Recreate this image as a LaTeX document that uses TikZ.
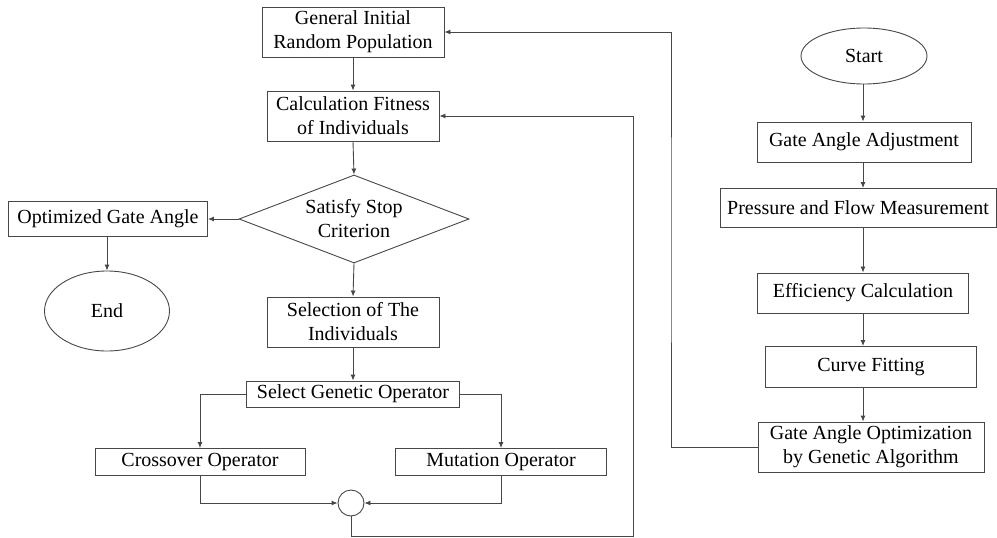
\documentclass[tikz,border=0pt]{standalone}
\usepackage{fontspec}
\setmainfont{Liberation Serif}
\usetikzlibrary{arrows.meta,shapes.geometric}
\begin{document}
\begin{tikzpicture}[x=1pt,y=-1pt,
  font=\fontsize{20}{24}\selectfont,
  ln/.style={draw=black!72,line width=0.9pt},
  arr/.style={ln,-{Latex[length=6pt,width=5pt]}},
  box/.style={ln,rectangle,inner sep=0pt,align=center},
  oval/.style={ln,ellipse,inner sep=0pt,align=center},
  dia/.style={ln,diamond,inner sep=0pt,align=center,aspect=2.6}]
\useasboundingbox (0,0) rectangle (997,538);
% left flow
\node[box,minimum width=182,minimum height=50] (girp) at (353,32) {General Initial\\Random Population};
\node[box,minimum width=172,minimum height=50] (calc) at (353,116) {Calculation Fitness\\of Individuals};
\node[dia,minimum width=230,minimum height=88] (stop) at (354,219) {Satisfy Stop\\Criterion};
\node[box,minimum width=199,minimum height=35] (opt) at (108,219) {Optimized Gate Angle};
\node[oval,minimum width=125,minimum height=80] (end) at (107,311) {End};
\node[box,minimum width=172,minimum height=50] (sel) at (353,322) {Selection of The\\Individuals};
\node[box,minimum width=213,minimum height=26] (sgo) at (353,394) {Select Genetic Operator};
\node[box,minimum width=210,minimum height=27] (cross) at (200,462) {Crossover Operator};
\node[box,minimum width=211,minimum height=27] (mut) at (501,462) {Mutation Operator};
\node[ln,circle,inner sep=0pt,minimum size=26] (circ) at (351,503) {};
% right flow
\node[oval,minimum width=126,minimum height=56] (start) at (864,56) {Start};
\node[box,minimum width=214,minimum height=40] (gaa) at (864,142) {Gate Angle Adjustment};
\node[box,minimum width=276,minimum height=39] (pfm) at (858,208) {Pressure and Flow Measurement};
\node[box,minimum width=211,minimum height=40] (eff) at (863,293) {Efficiency Calculation};
\node[box,minimum width=211,minimum height=41] (cf) at (871,367) {Curve Fitting};
\node[box,minimum width=226,minimum height=50] (gao) at (871,447) {Gate Angle Optimization\\by Genetic Algorithm};
\coordinate (rc) at (863,0);
\coordinate (l1) at (671,240);
\coordinate (l2) at (633,536);
% connectors left
\draw[arr] (girp.south) -- (calc.north);
\draw[arr] (calc.south) -- (stop.north);
\draw[arr] (stop.west) -- (opt.east);
\draw[arr] (opt.south -| end.north) -- (end.north);
\draw[arr] (stop.south) -- (sel.north);
\draw[arr] (sel.south) -- (sgo.north);
\draw[arr] (sgo.west) -| (cross.north);
\draw[arr] (sgo.east) -| (mut.north);
\draw[arr] (cross.south) |- (circ.west);
\draw[arr] (mut.south) |- (circ.east);
\draw[arr] (circ.south) |- (l2) |- (calc.east);
% connectors right
\draw[arr] (start.south -| rc) -- (gaa.north -| rc);
\draw[arr] (gaa.south -| rc) -- (pfm.north -| rc);
\draw[arr] (pfm.south -| rc) -- (eff.north -| rc);
\draw[arr] (eff.south -| rc) -- (cf.north -| rc);
\draw[arr] (cf.south -| rc) -- (gao.north -| rc);
\draw[arr] (gao.west) -| (l1) |- (girp.east);
\end{tikzpicture}
\end{document}
